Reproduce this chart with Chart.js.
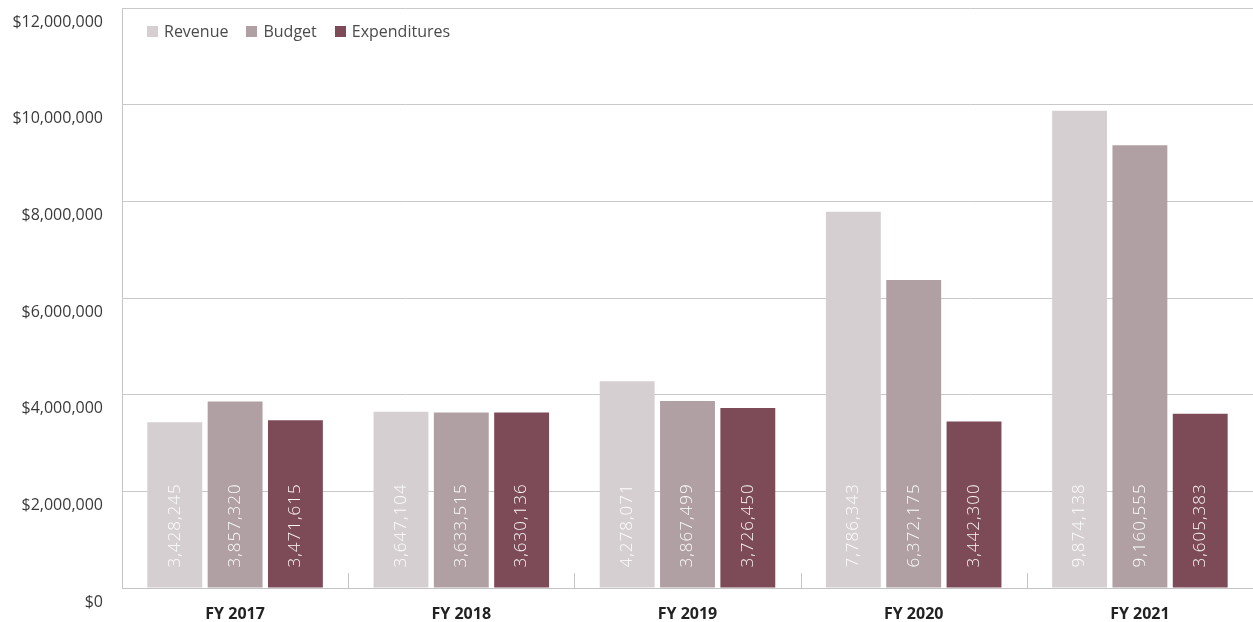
<!DOCTYPE html>
<html>
<head>
<meta charset="utf-8">
<script src="https://cdn.jsdelivr.net/npm/chart.js@4.4.1/dist/chart.umd.min.js"></script>
<style>
  html, body { margin: 0; padding: 0; background: #ffffff; overflow: hidden; }
  #wrap { position: relative; width: 1253px; height: 622px; overflow: hidden; }
  #legend { position: absolute; left: 147px; top: 20px; display: flex; font-family: "Open Sans", sans-serif; font-size: 16px; color: #4a4a4a; }
  .item { display: flex; align-items: center; margin-right: 18px; }
  .sw { width: 11px; height: 11px; margin-right: 6px; }
</style>
</head>
<body>
<div id="wrap">
  <canvas id="c" width="1253" height="622"></canvas>
  <div id="legend"></div>
</div>
<script>
const categories = ['FY 2017', 'FY 2018', 'FY 2019', 'FY 2020', 'FY 2021'];
const seriesNames = ['Revenue', 'Budget', 'Expenditures'];
const revenue = [3428245, 3647104, 4278071, 7786343, 9874138];
const budget = [3857320, 3633515, 3867499, 6372175, 9160555];
const expenditures = [3471615, 3630136, 3726450, 3442300, 3605383];
const yTickLabels = ['$0', '$2,000,000', '$4,000,000', '$6,000,000', '$8,000,000', '$10,000,000', '$12,000,000'];
const colors = ['#d6cfd1', '#b1a0a3', '#7d4b58'];

const seriesValues = [revenue, budget, expenditures];

const legendEl = document.getElementById('legend');
seriesNames.forEach((name, i) => {
  const it = document.createElement('div');
  it.className = 'item';
  const sw = document.createElement('span');
  sw.className = 'sw';
  sw.style.background = colors[i];
  const tx = document.createElement('span');
  tx.textContent = name;
  it.appendChild(sw); it.appendChild(tx);
  legendEl.appendChild(it);
});

const barLabels = {
  id: 'barLabels',
  afterDatasetsDraw(chart) {
    const ctx = chart.ctx;
    chart.data.datasets.forEach((ds, di) => {
      const meta = chart.getDatasetMeta(di);
      meta.data.forEach((bar, i) => {
        const txt = ds.data[i].toLocaleString('en-US');
        ctx.save();
        ctx.translate(bar.x, bar.base - 20);
        ctx.rotate(-Math.PI / 2);
        ctx.font = '300 17px "Open Sans"';
        try { ctx.letterSpacing = '1px'; } catch (e) {}
        ctx.fillStyle = 'rgba(255,255,255,0.95)';
        ctx.textAlign = 'left';
        ctx.textBaseline = 'middle';
        ctx.fillText(txt, 0, 0);
        ctx.restore();
      });
    });
  }
};

const catTicks = {
  id: 'catTicks',
  afterDraw(chart) {
    const xs = chart.scales.x;
    const ctx = chart.ctx;
    const bottom = chart.chartArea.bottom;
    ctx.save();
    ctx.strokeStyle = '#c4c4c4';
    ctx.lineWidth = 1;
    for (let i = 1; i < categories.length; i++) {
      const x = Math.round((xs.getPixelForValue(i - 1) + xs.getPixelForValue(i)) / 2) + 0.5;
      ctx.beginPath();
      ctx.moveTo(x, bottom);
      ctx.lineTo(x, bottom - 15);
      ctx.stroke();
    }
    ctx.restore();
  }
};

new Chart(document.getElementById('c'), {
  type: 'bar',
  data: {
    labels: categories,
    datasets: seriesNames.map((n, i) => ({
      label: n,
      data: seriesValues[i],
      backgroundColor: colors[i],
      borderWidth: 0,
      categoryPercentage: 0.8,
      barPercentage: 0.91
    }))
  },
  options: {
    responsive: false,
    animation: false,
    layout: { padding: { top: 8, right: -3, left: 0, bottom: 0 } },
    plugins: { legend: { display: false }, tooltip: { enabled: false } },
    scales: {
      x: {
        grid: { display: false, drawOnChartArea: false },
        border: { display: true, color: '#c4c4c4', width: 1 },
        ticks: { color: '#222222', font: { family: 'Open Sans', size: 16, weight: 'bold' }, padding: 9, maxRotation: 0 },
        afterFit(scale) { scale.height = 34; scale.paddingLeft = 0; scale.paddingRight = 0; }
      },
      y: {
        min: 0,
        max: 12000000,
        grid: { color: '#c9c9c9', drawTicks: false, lineWidth: 1 },
        border: { display: true, color: '#c4c4c4', width: 1 },
        ticks: {
          stepSize: 2000000,
          color: '#3a3a3a',
          font: { family: 'Open Sans', size: 16 },
          padding: 19,
          labelOffset: 14,
          callback: (v, idx) => yTickLabels[idx]
        },
        afterFit(scale) { scale.width = 122; scale.paddingTop = 0; scale.paddingBottom = 0; }
      }
    }
  },
  plugins: [barLabels, catTicks]
});
</script>
</body>
</html>
